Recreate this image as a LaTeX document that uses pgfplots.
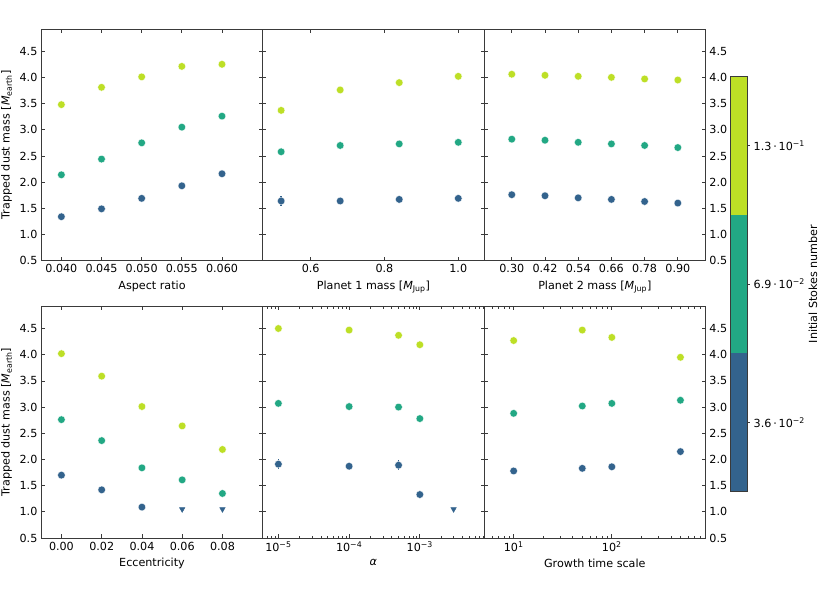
\documentclass[border=0pt]{standalone}
\usepackage{fontspec}
\setmainfont{DejaVu Sans}
\usepackage{pgfplots}
\pgfplotsset{compat=1.18}
\definecolor{cA}{HTML}{33638D}
\definecolor{cB}{HTML}{22A884}
\definecolor{cC}{HTML}{BDDF26}
\definecolor{axc}{HTML}{3A3A3A}
\pgfplotsset{
 panel/.style={scale only axis, width=221.4bp, height=231.5bp, anchor=south west,
  ymin=0.5, ymax=4.92, ytick={0.5,1.0,1.5,2.0,2.5,3.0,3.5,4.0,4.5},
  axis line style={axc, line width=0.8pt}, every tick/.style={axc, line width=0.7pt},
  major tick length=3.5bp, minor tick length=2bp, tick align=inside,
  xticklabel pos=lower, xtick pos=both, ytick pos=both,
  /pgf/number format/assume math mode=true,
  yticklabel style={/pgf/number format/.cd, fixed, fixed zerofill, precision=1},
  clip=false, only marks},
 lin/.style={scaled x ticks=false, scaled y ticks=false},
 pleft/.style={yticklabel pos=left, ylabel={Trapped dust mass [\textit{M}\textsubscript{earth}]}},
 pmid/.style={yticklabels={}},
 pright/.style={yticklabel pos=right},
 s1/.style={mark=*, mark size=3.8bp, color=cA, mark options={draw=white, line width=0.3pt, fill=cA}},
 s2/.style={mark=*, mark size=3.8bp, color=cB, mark options={draw=white, line width=0.3pt, fill=cB}},
 s3/.style={mark=*, mark size=3.8bp, color=cC, mark options={draw=white, line width=0.3pt, fill=cC}},
 tri/.style={mark=triangle*, mark size=3.2bp, color=cA, mark options={rotate=180, draw=cA, fill=cA}},
 eb/.style={error bars/.cd, y dir=both, y explicit, error bar style={cA, line width=1.4pt}, error mark=none},
}
\begin{document}
\fontsize{11.2}{13.4}\selectfont
\begin{tikzpicture}
\path[use as bounding box] (0,0) rectangle (830bp,598bp);
% ---------- top left: aspect ratio
\begin{axis}[panel, lin, pleft, at={(41.3bp,337.3bp)}, xmin=0.0375, xmax=0.06507,
  xtick={0.040,0.045,0.050,0.055,0.060},
  xticklabel style={/pgf/number format/.cd, fixed, fixed zerofill, precision=3},
  xlabel={Aspect ratio}]
\addplot[s3] coordinates {(0.040,3.48) (0.045,3.81) (0.050,4.01) (0.055,4.21) (0.060,4.25)};
\addplot[s2] coordinates {(0.040,2.14) (0.045,2.44) (0.050,2.75) (0.055,3.05) (0.060,3.26)};
\addplot[s1] coordinates {(0.040,1.34) (0.045,1.49) (0.050,1.69) (0.055,1.93) (0.060,2.16)};
\end{axis}
% ---------- top middle: planet 1 mass
\begin{axis}[panel, lin, pmid, at={(262.7bp,337.3bp)}, xmin=0.47, xmax=1.07,
  xtick={0.6,0.8,1.0},
  xticklabel style={/pgf/number format/.cd, fixed, fixed zerofill, precision=1},
  xlabel={Planet 1 mass [\textit{M}\textsubscript{Jup}]}]
\addplot[s3] coordinates {(0.52,3.37) (0.68,3.76) (0.84,3.90) (1.00,4.02)};
\addplot[s2] coordinates {(0.52,2.58) (0.68,2.70) (0.84,2.73) (1.00,2.76)};
\addplot[s1, eb] coordinates {(0.52,1.64) +- (0,0.095)};
\addplot[s1] coordinates {(0.68,1.64) (0.84,1.67) (1.00,1.69)};
\end{axis}
% ---------- top right: planet 2 mass
\begin{axis}[panel, lin, pright, at={(484.1bp,337.3bp)}, xmin=0.20, xmax=1.00,
  xtick={0.30,0.42,0.54,0.66,0.78,0.90},
  xticklabel style={/pgf/number format/.cd, fixed, fixed zerofill, precision=2},
  xlabel={Planet 2 mass [\textit{M}\textsubscript{Jup}]}]
\addplot[s3] coordinates {(0.30,4.06) (0.42,4.04) (0.54,4.02) (0.66,4.00) (0.78,3.97) (0.90,3.95)};
\addplot[s2] coordinates {(0.30,2.82) (0.42,2.80) (0.54,2.76) (0.66,2.73) (0.78,2.70) (0.90,2.66)};
\addplot[s1] coordinates {(0.30,1.76) (0.42,1.74) (0.54,1.70) (0.66,1.67) (0.78,1.63) (0.90,1.60)};
\end{axis}
% ---------- bottom left: eccentricity
\begin{axis}[panel, lin, pleft, at={(41.3bp,60bp)}, xmin=-0.01, xmax=0.10,
  xtick={0.00,0.02,0.04,0.06,0.08},
  xticklabel style={/pgf/number format/.cd, fixed, fixed zerofill, precision=2},
  xlabel={Eccentricity}]
\addplot[s3] coordinates {(0.00,4.02) (0.02,3.59) (0.04,3.01) (0.06,2.64) (0.08,2.19)};
\addplot[s2] coordinates {(0.00,2.76) (0.02,2.36) (0.04,1.84) (0.06,1.61) (0.08,1.35)};
\addplot[s1] coordinates {(0.00,1.70) (0.02,1.42) (0.04,1.09)};
\addplot[tri] coordinates {(0.06,1.05) (0.08,1.05)};
\end{axis}
% ---------- bottom middle: alpha
\begin{axis}[panel, pmid, at={(262.7bp,60bp)}, xmode=log, log basis x=10, xmin=6e-6, xmax=8.1e-3,
  xtick={1e-5,1e-4,1e-3},
  xticklabels={10\textsuperscript{−5},10\textsuperscript{−4},10\textsuperscript{−3}},
  minor xtick={7e-6,8e-6,9e-6,2e-5,3e-5,4e-5,5e-5,6e-5,7e-5,8e-5,9e-5,2e-4,3e-4,4e-4,5e-4,6e-4,7e-4,8e-4,9e-4,2e-3,3e-3,4e-3,5e-3,6e-3,7e-3,8e-3},
  xlabel={\textit{α}}]
\addplot[s3] coordinates {(1e-5,4.50) (1e-4,4.47) (5e-4,4.37) (1e-3,4.19)};
\addplot[s2] coordinates {(1e-5,3.07) (1e-4,3.01) (5e-4,3.00) (1e-3,2.78)};
\addplot[s1, eb] coordinates {(1e-5,1.91) +- (0,0.09) (5e-4,1.89) +- (0,0.095)};
\addplot[s1] coordinates {(1e-4,1.87) (1e-3,1.33)};
\addplot[tri] coordinates {(3e-3,1.05)};
\end{axis}
% ---------- bottom right: growth time scale
\begin{axis}[panel, pright, at={(484.1bp,60bp)}, xmode=log, log basis x=10, xmin=5, xmax=900,
  xtick={10,100},
  xticklabels={10\textsuperscript{1},10\textsuperscript{2}},
  minor xtick={6,7,8,9,20,30,40,50,60,70,80,90,200,300,400,500,600,700,800},
  xlabel={Growth time scale}]
\addplot[s3] coordinates {(10,4.27) (50,4.47) (100,4.33) (500,3.95)};
\addplot[s2] coordinates {(10,2.88) (50,3.02) (100,3.07) (500,3.13)};
\addplot[s1] coordinates {(10,1.78) (50,1.83) (100,1.86) (500,2.15)};
\end{axis}
% ---------- colour bar
\begin{axis}[at={(730.7bp,106.3bp)}, anchor=south west, scale only axis, width=16.6bp, height=415.4bp,
  xmin=0, xmax=1, ymin=0, ymax=3, xtick=\empty, axis on top,
  ytick={0.5,1.5,2.5},
  yticklabels={3.6\,·\,10\textsuperscript{−2},6.9\,·\,10\textsuperscript{−2},1.3\,·\,10\textsuperscript{−1}},
  yticklabel pos=right, ytick pos=right, tick align=outside, major tick length=2.5bp,
  axis line style={axc, line width=0.8pt}, every tick/.style={axc, line width=0.7pt}]
\addplot[fill=cA, draw=none] coordinates {(0,0) (1,0) (1,1) (0,1)};
\addplot[fill=cB, draw=none] coordinates {(0,1) (1,1) (1,2) (0,2)};
\addplot[fill=cC, draw=none] coordinates {(0,2) (1,2) (1,3) (0,3)};
\end{axis}
\node[rotate=90] at (813bp,314bp) {Initial Stokes number};
\end{tikzpicture}
\end{document}
